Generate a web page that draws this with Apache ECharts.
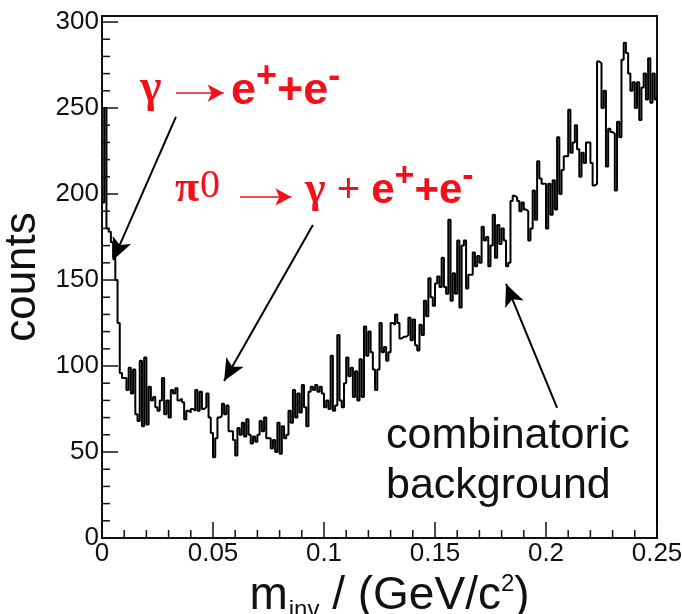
<!DOCTYPE html>
<html>
<head>
<meta charset="utf-8">
<script src="https://cdn.jsdelivr.net/npm/echarts@6/dist/echarts.min.js"></script>
<style>
html,body{margin:0;padding:0;background:#fff;}
#chart{width:682px;height:614px;}
</style>
</head>
<body>
<div id="chart"></div>
<script>
// ---- data (histogram, bin width 0.001 GeV/c^2, 0 .. 0.25) ----
const binWidth = 0.001;
const xRange = [0, 0.25];
const yRange = [0, 303.5];
const xTickStep = 0.05;
const yTickStep = 50;
const counts = [
  195, 250, 180, 178, 172, 163, 150, 125, 96, 93,
  93, 86, 99, 84, 98, 72, 68, 103, 65, 105,
  66, 88, 80, 82, 76, 74, 80, 93, 72, 80,
  70, 86, 84, 87, 80, 81, 79, 69, 74, 73,
  75, 74, 86, 74, 85, 75, 76, 84, 70, 61,
  47, 58, 70, 71, 78, 72, 77, 62, 62, 57,
  48, 64, 60, 67, 59, 69, 60, 55, 59, 56,
  60, 68, 62, 70, 58, 58, 52, 57, 50, 67,
  49, 65, 58, 60, 74, 67, 86, 70, 84, 73,
  89, 76, 65, 85, 88, 86, 89, 85, 88, 84,
  76, 80, 75, 106, 74, 77, 118, 80, 76, 90,
  105, 94, 99, 82, 97, 80, 104, 82, 123, 106,
  120, 108, 98, 86, 98, 125, 108, 111, 103, 108,
  125, 124, 130, 125, 116, 117, 117, 118, 128, 115,
  127, 112, 109, 124, 118, 138, 129, 151, 140, 135,
  148, 152, 146, 163, 146, 142, 185, 138, 154, 142,
  173, 134, 170, 173, 145, 153, 153, 166, 158, 164,
  160, 181, 173, 175, 158, 170, 188, 163, 182, 171,
  180, 173, 158, 160, 196, 199, 198, 196, 190, 195,
  191, 190, 173, 180, 202, 185, 219, 209, 206, 206,
  180, 206, 188, 208, 191, 233, 200, 214, 222, 222,
  249, 224, 230, 240, 226, 210, 224, 218, 230, 230,
  218, 205, 206, 277, 276, 250, 260, 216, 238, 236,
  235, 202, 242, 233, 278, 288, 282, 270, 260, 265,
  250, 265, 243, 262, 270, 255, 279, 253, 270, 255
];
// tick positions
const xMajorTicks = [0, 0.05, 0.1, 0.15, 0.2, 0.25];
const xMinorTicks = [0.01, 0.02, 0.03, 0.04, 0.06, 0.07, 0.08, 0.09, 0.11, 0.12, 0.13, 0.14,
  0.16, 0.17, 0.18, 0.19, 0.21, 0.22, 0.23, 0.24];
const yMajorTicks = [0, 50, 100, 150, 200, 250, 300];
const yMinorTicks = [10, 20, 30, 40, 60, 70, 80, 90, 110, 120, 130, 140, 160, 170, 180, 190,
  210, 220, 230, 240, 260, 270, 280, 290];
// annotation arrows in data coordinates: [from, to]
const blackArrows = [
  [[0.0333, 244.8], [0.0050, 161.6]],
  [[0.0950, 182.0], [0.0550, 91.3]],
  [[0.2050, 75.6], [0.1820, 147.7]]
];
const redArrows = [
  [[0.0333, 258.7], [0.0548, 258.7]],
  [[0.0622, 198.3], [0.0853, 198.3]]
];
const xTitle = '{m|m}{sub|inv}{t| / (GeV/c}{sup|2}{t|)}';
const yTitle = 'counts';

// ---- build ----
const histPoints = counts.map((v, i) => [i * binWidth, v]);
histPoints.push([xRange[1], 0]);

const SANS = 'Liberation Sans, Arial, sans-serif';
const SERIF = 'Liberation Serif, Times New Roman, serif';
const RED = '#f2111a';
const INK = '#111';
function toMarkLine(arrows) { return arrows.map(a => [{ coord: a[0] }, { coord: a[1] }]); }

function tickSeries(values, isX, len) {
  return {
    type: 'custom', xAxisIndex: 0, yAxisIndex: 0, silent: true, z: 4, clip: false,
    data: values.map(v => (isX ? [v, yRange[0]] : [xRange[0], v])),
    renderItem: (params, api) => {
      const p = api.coord([api.value(0), api.value(1)]);
      return {
        type: 'line',
        shape: isX ? { x1: p[0], y1: p[1], x2: p[0], y2: p[1] - len }
                   : { x1: p[0], y1: p[1], x2: p[0] + len, y2: p[1] },
        style: { stroke: INK, lineWidth: 1.5 }
      };
    }
  };
}

const chart = echarts.init(document.getElementById('chart'));
chart.setOption({
  animation: false,
  grid: { left: 102, right: 25, top: 16, bottom: 76, containLabel: false, outerBoundsMode: 'none' },
  xAxis: [
    {
      type: 'value', min: xRange[0], max: xRange[1], interval: xTickStep, position: 'bottom',
      axisLine: { show: true, onZero: false, lineStyle: { color: INK, width: 2 } },
      axisTick: { show: false }, minorTick: { show: false },
      splitLine: { show: false },
      axisLabel: { fontFamily: SANS, fontSize: 26, color: INK, margin: 3 },
      name: xTitle, nameLocation: 'middle', nameGap: 29,
      nameTextStyle: {
        fontFamily: SANS, fontSize: 46, color: INK, padding: [0, 0, 0, 20],
        rich: {
          m: { fontFamily: SANS, fontSize: 46, color: INK },
          t: { fontFamily: SANS, fontSize: 46, color: INK },
          sub: { fontFamily: SANS, fontSize: 24, color: INK, padding: [28, 0, 0, 1] },
          sup: { fontFamily: SANS, fontSize: 24, color: INK, padding: [0, 0, 24, 0] }
        }
      }
    },
    {
      type: 'value', min: xRange[0], max: xRange[1], position: 'top',
      axisLine: { show: true, onZero: false, lineStyle: { color: INK, width: 2 } },
      axisTick: { show: false }, axisLabel: { show: false }, splitLine: { show: false }
    }
  ],
  yAxis: [
    {
      type: 'value', min: yRange[0], max: yRange[1], interval: yTickStep, position: 'left',
      axisLine: { show: true, onZero: false, lineStyle: { color: INK, width: 2 } },
      axisTick: { show: false },
      splitLine: { show: false },
      axisLabel: {
        fontFamily: SANS, fontSize: 26, color: INK, margin: 3,
        formatter: v => (Math.abs(v / yTickStep - Math.round(v / yTickStep)) < 1e-9 ? String(v) : '')
      },
      name: yTitle, nameLocation: 'middle', nameRotate: 90, nameGap: 53,
      nameTextStyle: { fontFamily: SANS, fontSize: 44, color: INK }
    },
    {
      type: 'value', min: yRange[0], max: yRange[1], position: 'right',
      axisLine: { show: true, onZero: false, lineStyle: { color: INK, width: 2 } },
      axisTick: { show: false }, axisLabel: { show: false }, splitLine: { show: false }
    }
  ],
  series: [
    {
      type: 'line', name: 'counts', xAxisIndex: 0, yAxisIndex: 0,
      data: histPoints, step: 'end', symbol: 'none', silent: true,
      lineStyle: { color: '#000', width: 2 },
      markLine: {
        silent: true, symbol: ['none', 'arrow'], symbolSize: [15, 22],
        label: { show: false }, emphasis: { disabled: true },
        lineStyle: { color: '#000', width: 2, type: 'solid' },
        data: toMarkLine(blackArrows)
      }
    },
    {
      type: 'line', name: 'red arrows', xAxisIndex: 0, yAxisIndex: 0,
      data: [], symbol: 'none', silent: true,
      markLine: {
        silent: true, symbol: ['none', 'arrow'], symbolSize: [13, 16],
        label: { show: false }, emphasis: { disabled: true },
        lineStyle: { color: RED, width: 1.5, type: 'solid' },
        data: toMarkLine(redArrows)
      }
    },
    tickSeries(xMajorTicks, true, 16),
    tickSeries(xMinorTicks, true, 8),
    tickSeries(yMajorTicks, false, 16),
    tickSeries(yMinorTicks, false, 8)
  ],
  graphic: [
    { type: 'text', x: 140, y: 89, silent: true,
      style: { text: 'γ', font: 'bold 46px ' + SERIF, fill: RED, align: 'left', verticalAlign: 'middle' } },
    { type: 'text', x: 231, y: 92, silent: true,
      style: { text: '{b|e}{sp|+}{b|+e}{sp|-}', align: 'left', verticalAlign: 'middle', fill: RED,
        rich: {
          b: { fontFamily: SANS, fontWeight: 'bold', fontSize: 45, fill: RED },
          sp: { fontFamily: SANS, fontWeight: 'bold', fontSize: 36, fill: RED, padding: [0, 0, 30, 0] }
        } } },
    { type: 'text', x: 175, y: 190, silent: true,
      style: { text: '{p|π}{z|0}', align: 'left', verticalAlign: 'middle', fill: RED,
        rich: {
          p: { fontFamily: SERIF, fontWeight: 'bold', fontSize: 44, fill: RED },
          z: { fontFamily: SERIF, fontSize: 40, fill: RED, padding: [0, 0, 8, 1] }
        } } },
    { type: 'text', x: 305, y: 191, silent: true,
      style: { text: '{g|γ}{pl| + }{b|e}{sp|+}{b|+e}{sp|-}', align: 'left', verticalAlign: 'middle', fill: RED,
        rich: {
          g: { fontFamily: SERIF, fontWeight: 'bold', fontSize: 44, fill: RED },
          pl: { fontFamily: SANS, fontSize: 40, fill: RED },
          b: { fontFamily: SANS, fontWeight: 'bold', fontSize: 42, fill: RED },
          sp: { fontFamily: SANS, fontWeight: 'bold', fontSize: 34, fill: RED, padding: [0, 0, 28, 0] }
        } } },
    { type: 'text', x: 386, y: 411, silent: true,
      style: { text: 'combinatoric\nbackground', font: '43px ' + SANS, fill: INK,
        lineHeight: 50, align: 'left', verticalAlign: 'top' } }
  ]
});
</script>
</body>
</html>
